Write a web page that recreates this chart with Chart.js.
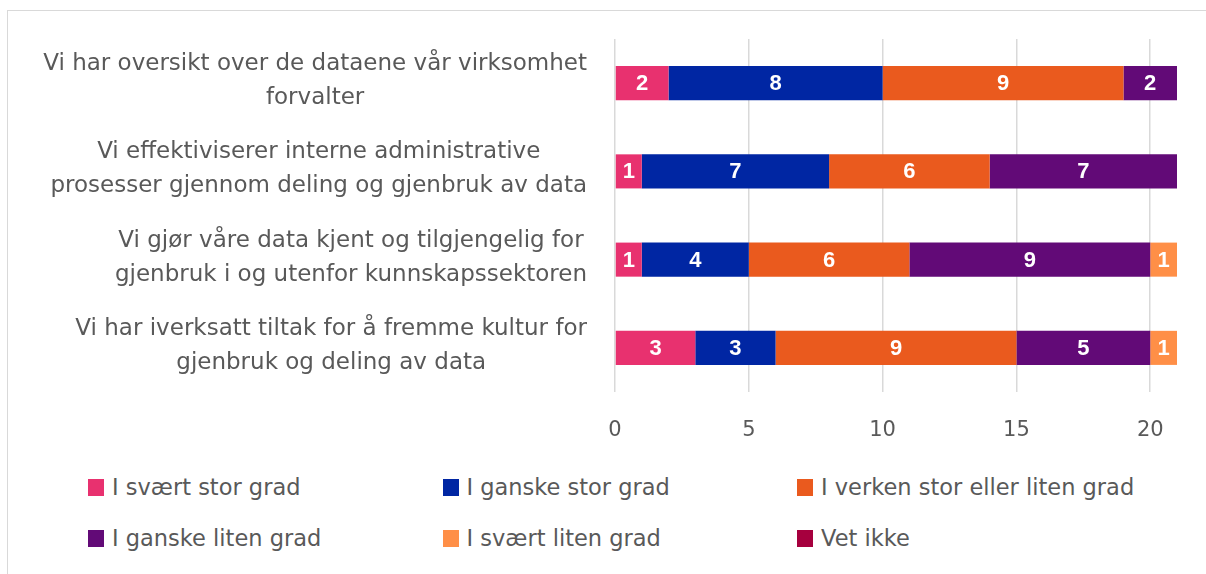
<!DOCTYPE html>
<html>
<head>
<meta charset="utf-8">
<script src="https://cdn.jsdelivr.net/npm/chart.js@4.4.1/dist/chart.umd.min.js"></script>
<style>
  html, body { margin: 0; padding: 0; background: #fff; width: 1206px; height: 574px; overflow: hidden; }
  #frame { position: absolute; left: 7px; top: 10px; width: 1210px; height: 600px; border-left: 1px solid #d9d9d9; border-top: 1px solid #d9d9d9; }
  #wrap { position: absolute; left: 0; top: 0; width: 1206px; height: 460px; }
  #legend { position: absolute; left: 88px; top: 474px; width: 1110px; font-family: "DejaVu Sans", sans-serif; font-size: 22.5px; color: #595959; }
  .item { position: absolute; display: flex; align-items: center; white-space: nowrap; }
  .box { width: 16px; height: 17px; margin-right: 8px; }
</style>
</head>
<body>
<div id="frame"></div>
<div id="wrap"><canvas id="c" width="1206" height="460"></canvas></div>
<div id="legend"></div>
<script>
const categories = [
  ["Vi har oversikt over de dataene vår virksomhet", "forvalter"],
  ["Vi effektiviserer interne administrative", "prosesser gjennom deling og gjenbruk av data"],
  ["Vi gjør våre data kjent og tilgjengelig for", "gjenbruk i og utenfor kunnskapssektoren"],
  ["Vi har iverksatt tiltak for å fremme kultur for", "gjenbruk og deling av data"]
];
const seriesNames = ["I svært stor grad", "I ganske stor grad", "I verken stor eller liten grad", "I ganske liten grad", "I svært liten grad", "Vet ikke"];
const seriesColors = ["#E8316F", "#0026A3", "#EA5A1E", "#620A77", "#FF8F47", "#A6003E"];
const svaertStor   = [2, 1, 1, 3];
const ganskeStor   = [8, 7, 4, 3];
const verken       = [9, 6, 6, 9];
const ganskeLiten  = [2, 7, 9, 5];
const svaertLiten  = [0, 0, 1, 1];
const vetIkke      = [0, 0, 0, 0];
const xTicks = [0, 5, 10, 15, 20];
const xMax = 21;

const seriesData = [svaertStor, ganskeStor, verken, ganskeLiten, svaertLiten, vetIkke];

const labelFont = '23px "DejaVu Sans", sans-serif';

const valueLabels = {
  id: 'valueLabels',
  afterDatasetsDraw(chart) {
    const ctx = chart.ctx;
    ctx.save();
    ctx.font = 'bold 22px "Liberation Sans Narrow", "Liberation Sans", Arial, sans-serif';
    ctx.fillStyle = '#fff';
    ctx.textAlign = 'center';
    ctx.textBaseline = 'middle';
    chart.data.datasets.forEach((ds, i) => {
      const meta = chart.getDatasetMeta(i);
      meta.data.forEach((el, j) => {
        const v = ds.data[j];
        if (!v) return;
        const x = (el.x + el.base) / 2;
        ctx.fillText(String(v), x, el.y + 1);
      });
    });
    ctx.restore();
  }
};

const catLabels = {
  id: 'catLabels',
  afterDraw(chart) {
    const ctx = chart.ctx;
    const y = chart.scales.y;
    const right = 587;
    const lh = 34;
    ctx.save();
    ctx.font = labelFont;
    ctx.fillStyle = '#595959';
    ctx.textAlign = 'center';
    ctx.textBaseline = 'middle';
    categories.forEach((lines, i) => {
      const cy = y.getPixelForValue(i);
      const maxW = Math.max(...lines.map(l => ctx.measureText(l).width));
      const cx = right - maxW / 2;
      const startY = cy - (lines.length - 1) * lh / 2 - 2;
      lines.forEach((l, k) => ctx.fillText(l, cx, startY + k * lh));
    });
    ctx.restore();
  }
};

new Chart(document.getElementById('c'), {
  type: 'bar',
  data: {
    labels: categories,
    datasets: seriesNames.map((n, i) => ({
      label: n,
      data: seriesData[i],
      backgroundColor: seriesColors[i],
      borderWidth: 0,
      barPercentage: 0.386,
      categoryPercentage: 1.0
    }))
  },
  options: {
    indexAxis: 'y',
    responsive: false,
    animation: false,
    layout: { padding: { left: 0, right: 29, top: 39, bottom: 0 } },
    plugins: { legend: { display: false }, tooltip: { enabled: false } },
    scales: {
      x: {
        stacked: true,
        min: 0, max: xMax,
        afterBuildTicks(scale) { scale.ticks = xTicks.map(v => ({ value: v })); },
        afterFit(scale) { scale.height = 68; },
        grid: { color: '#d9d9d9', lineWidth: 1.5, drawTicks: false },
        border: { display: false },
        ticks: { color: '#595959', font: { family: '"DejaVu Sans", sans-serif', size: 21 }, padding: 26 }
      },
      y: {
        stacked: true,
        grid: { display: false },
        border: { display: false },
        ticks: { display: false },
        afterFit(scale) { scale.width = 615; }
      }
    }
  },
  plugins: [valueLabels, catLabels]
});

const legend = document.getElementById('legend');
seriesNames.forEach((n, i) => {
  const d = document.createElement('div');
  d.className = 'item';
  d.style.left = (i % 3) * 354.5 + 'px';
  d.style.top = Math.floor(i / 3) * 51 + 'px';
  d.innerHTML = '<div class="box" style="background:' + seriesColors[i] + '"></div><span>' + n + '</span>';
  legend.appendChild(d);
});
</script>
</body>
</html>
